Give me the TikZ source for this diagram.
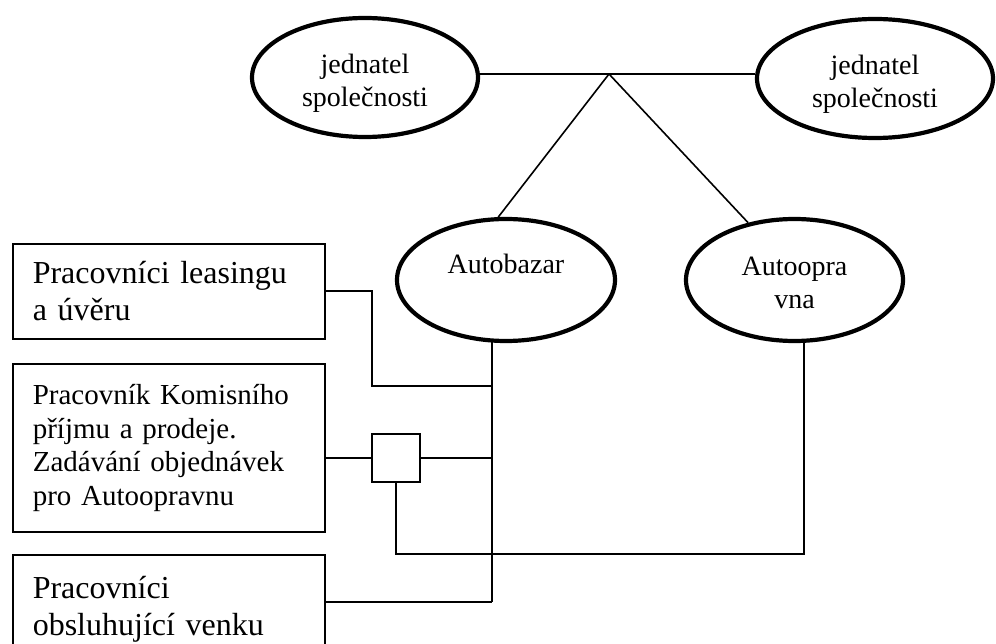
\documentclass[tikz,border=0pt]{standalone}
\usepackage{fontspec}
\setmainfont{Liberation Serif}
\usetikzlibrary{shapes.geometric}
\tikzset{
  thin line/.style={line width=1.6pt},
  oval/.style={ellipse, draw, line width=4.2pt, inner sep=0pt, align=center,
    font=\fontsize{28}{33}\selectfont},
  staffbox/.style={rectangle, draw, line width=1.6pt, anchor=north west,
    minimum width=312pt, text width=272pt, inner xsep=20pt, inner ysep=0pt,
    align=left},
  junction/.style={rectangle, draw, line width=1.6pt, minimum width=48pt,
    minimum height=48pt, inner sep=0pt}
}
\begin{document}
\begin{tikzpicture}[x=1pt,y=-1pt]
\clip (0,0) rectangle (996,644);
\fill[white] (0,0) rectangle (996,644);

% top ellipses
\node[oval, minimum width=226pt, minimum height=119pt] (jl) at (365,77.5) {\rule{0pt}{30pt}jednatel\\společnosti};
\node[oval, minimum width=236pt, minimum height=119pt] (jr) at (875,78.5) {\rule{0pt}{30pt}jednatel\\společnosti};

% middle ellipses
\node[oval, minimum width=218pt, minimum height=122pt] (ab) at (506,280) {Autobazar\\\mbox{}};
\node[oval, minimum width=217pt, minimum height=122pt] (ao) at (794.5,280) {\rule{0pt}{24pt}Autoopra\\vna};

% boxes
\node[staffbox, minimum height=95pt, font=\fontsize{32}{37}\selectfont] (b1) at (12,243) {Pracovníci leasingu\\a úvěru};
\node[staffbox, minimum height=168pt, font=\fontsize{29}{33.5}\selectfont] (b2) at (12,363) {Pracovník Komisního\\příjmu a prodeje.\\Zadávání objednávek\\pro Autoopravnu};
\node[staffbox, minimum height=108pt, font=\fontsize{32}{37}\selectfont] (b3) at (12,554) {Pracovníci\\obsluhující venku};

% junction square
\node[junction] (sq) at (396,458) {};

% coordinates
\coordinate (apex) at (609,74);
\coordinate (abb) at (492,340);
\coordinate (aob) at (804,340);
\coordinate (k1) at (372,386);
\coordinate (j1) at (492,386);
\coordinate (j2) at (492,458);
\coordinate (j3) at (492,602);
\coordinate (c1) at (804,554);

% connectors
\draw[thin line] (jl.east |- apex) -- (jr.west |- apex);
\draw[thin line] (apex) -- (ab.97);
\draw[thin line] (apex) -- (ao.129);
\draw[thin line] (abb) -- (j3);
\draw[thin line] (b1.east) -| (k1) -- (j1);
\draw[thin line] (b2.east |- sq.west) -- (sq.west);
\draw[thin line] (sq.east) -- (j2);
\draw[thin line] (sq.south) |- (c1) -- (aob);
\draw[thin line] (b3.east |- j3) -- (j3);
\end{tikzpicture}
\end{document}
